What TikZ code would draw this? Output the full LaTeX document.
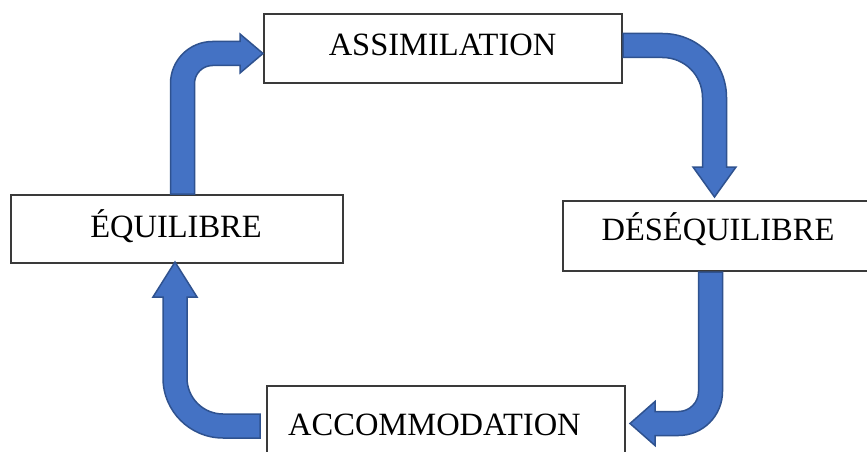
\documentclass[tikz,border=0pt]{standalone}
\usepackage{fontspec}
\setmainfont{Liberation Serif}
\definecolor{arrowfill}{HTML}{4472C4}
\definecolor{arrowline}{HTML}{2F528F}
\definecolor{boxline}{HTML}{3A3A3A}
\tikzset{
  boxnode/.style={draw=boxline, line width=1.3pt, rectangle, inner sep=0pt},
  lbl/.style={font=\fontsize{32.5}{38}\selectfont, inner sep=0pt, anchor=base},
  barrow/.style={fill=arrowfill, draw=arrowline, line width=1.5pt, line join=miter}
}
\begin{document}
\begin{tikzpicture}[x=1pt,y=-1pt]
\useasboundingbox (0,0) rectangle (867,452);
\clip (0,0) rectangle (867,452);
\fill[white] (0,0) rectangle (867,452);
% boxes
\node[boxnode, minimum width=358pt, minimum height=69pt] (assim) at (443,48.5) {};
\node[boxnode, minimum width=332pt, minimum height=68pt] (equi) at (177,229) {};
\node[boxnode, minimum width=310pt, minimum height=70pt] (deseq) at (718,236) {};
\node[boxnode, minimum width=358pt, minimum height=84pt] (accom) at (446,428) {};
% labels
\node[lbl] (tassim) at (442.5,55.5) {ASSIMILATION};
\node[lbl] (tequi) at (176,237.5) {ÉQUILIBRE};
\node[lbl] (tdeseq) at (718,240.5) {DÉSÉQUILIBRE};
\node[lbl, anchor=base west] (taccom) at (288,435) {ACCOMMODATION};
% arrow: equilibre -> assimilation
\draw[barrow] (170.5,194) -- (170.5,83.5)
  .. controls (170.5,60.3) and (189.3,41.5) .. (212.5,41.5)
  -- (240,41.5) -- (240,34) -- (263,53.5) -- (240,73) -- (240,65.5)
  -- (212.5,65.5) .. controls (202.6,65.5) and (194.5,73.6) .. (194.5,83.5)
  -- (194.5,194) -- cycle;
% arrow: assimilation -> desequilibre
\draw[barrow] (623,33.5) -- (662.5,33.5)
  .. controls (697.85,33.5) and (726.5,62.15) .. (726.5,97.5)
  -- (726.5,167) -- (736,167) -- (714.5,197) -- (693,167) -- (702.5,167)
  -- (702.5,97.5) .. controls (702.5,75.4) and (684.6,57.5) .. (662.5,57.5)
  -- (623,57.5) -- cycle;
% arrow: desequilibre -> accommodation
\draw[barrow] (698.5,272) -- (722.5,272) -- (722.5,391.5)
  .. controls (722.5,415.8) and (702.8,435.5) .. (678.5,435.5)
  -- (655,435.5) -- (655,445.5) -- (630,423.5) -- (655,401.5) -- (655,411.5)
  -- (678.5,411.5) .. controls (689.55,411.5) and (698.5,402.55) .. (698.5,391.5)
  -- cycle;
% arrow: accommodation -> equilibre
\draw[barrow] (260,414) -- (223,414)
  .. controls (203.1,414) and (187,397.9) .. (187,378)
  -- (187,297) -- (197,297) -- (175,262) -- (153,297) -- (163,297)
  -- (163,378) .. controls (163,411.1) and (189.9,438) .. (223,438)
  -- (260,438) -- cycle;
\end{tikzpicture}
\end{document}
